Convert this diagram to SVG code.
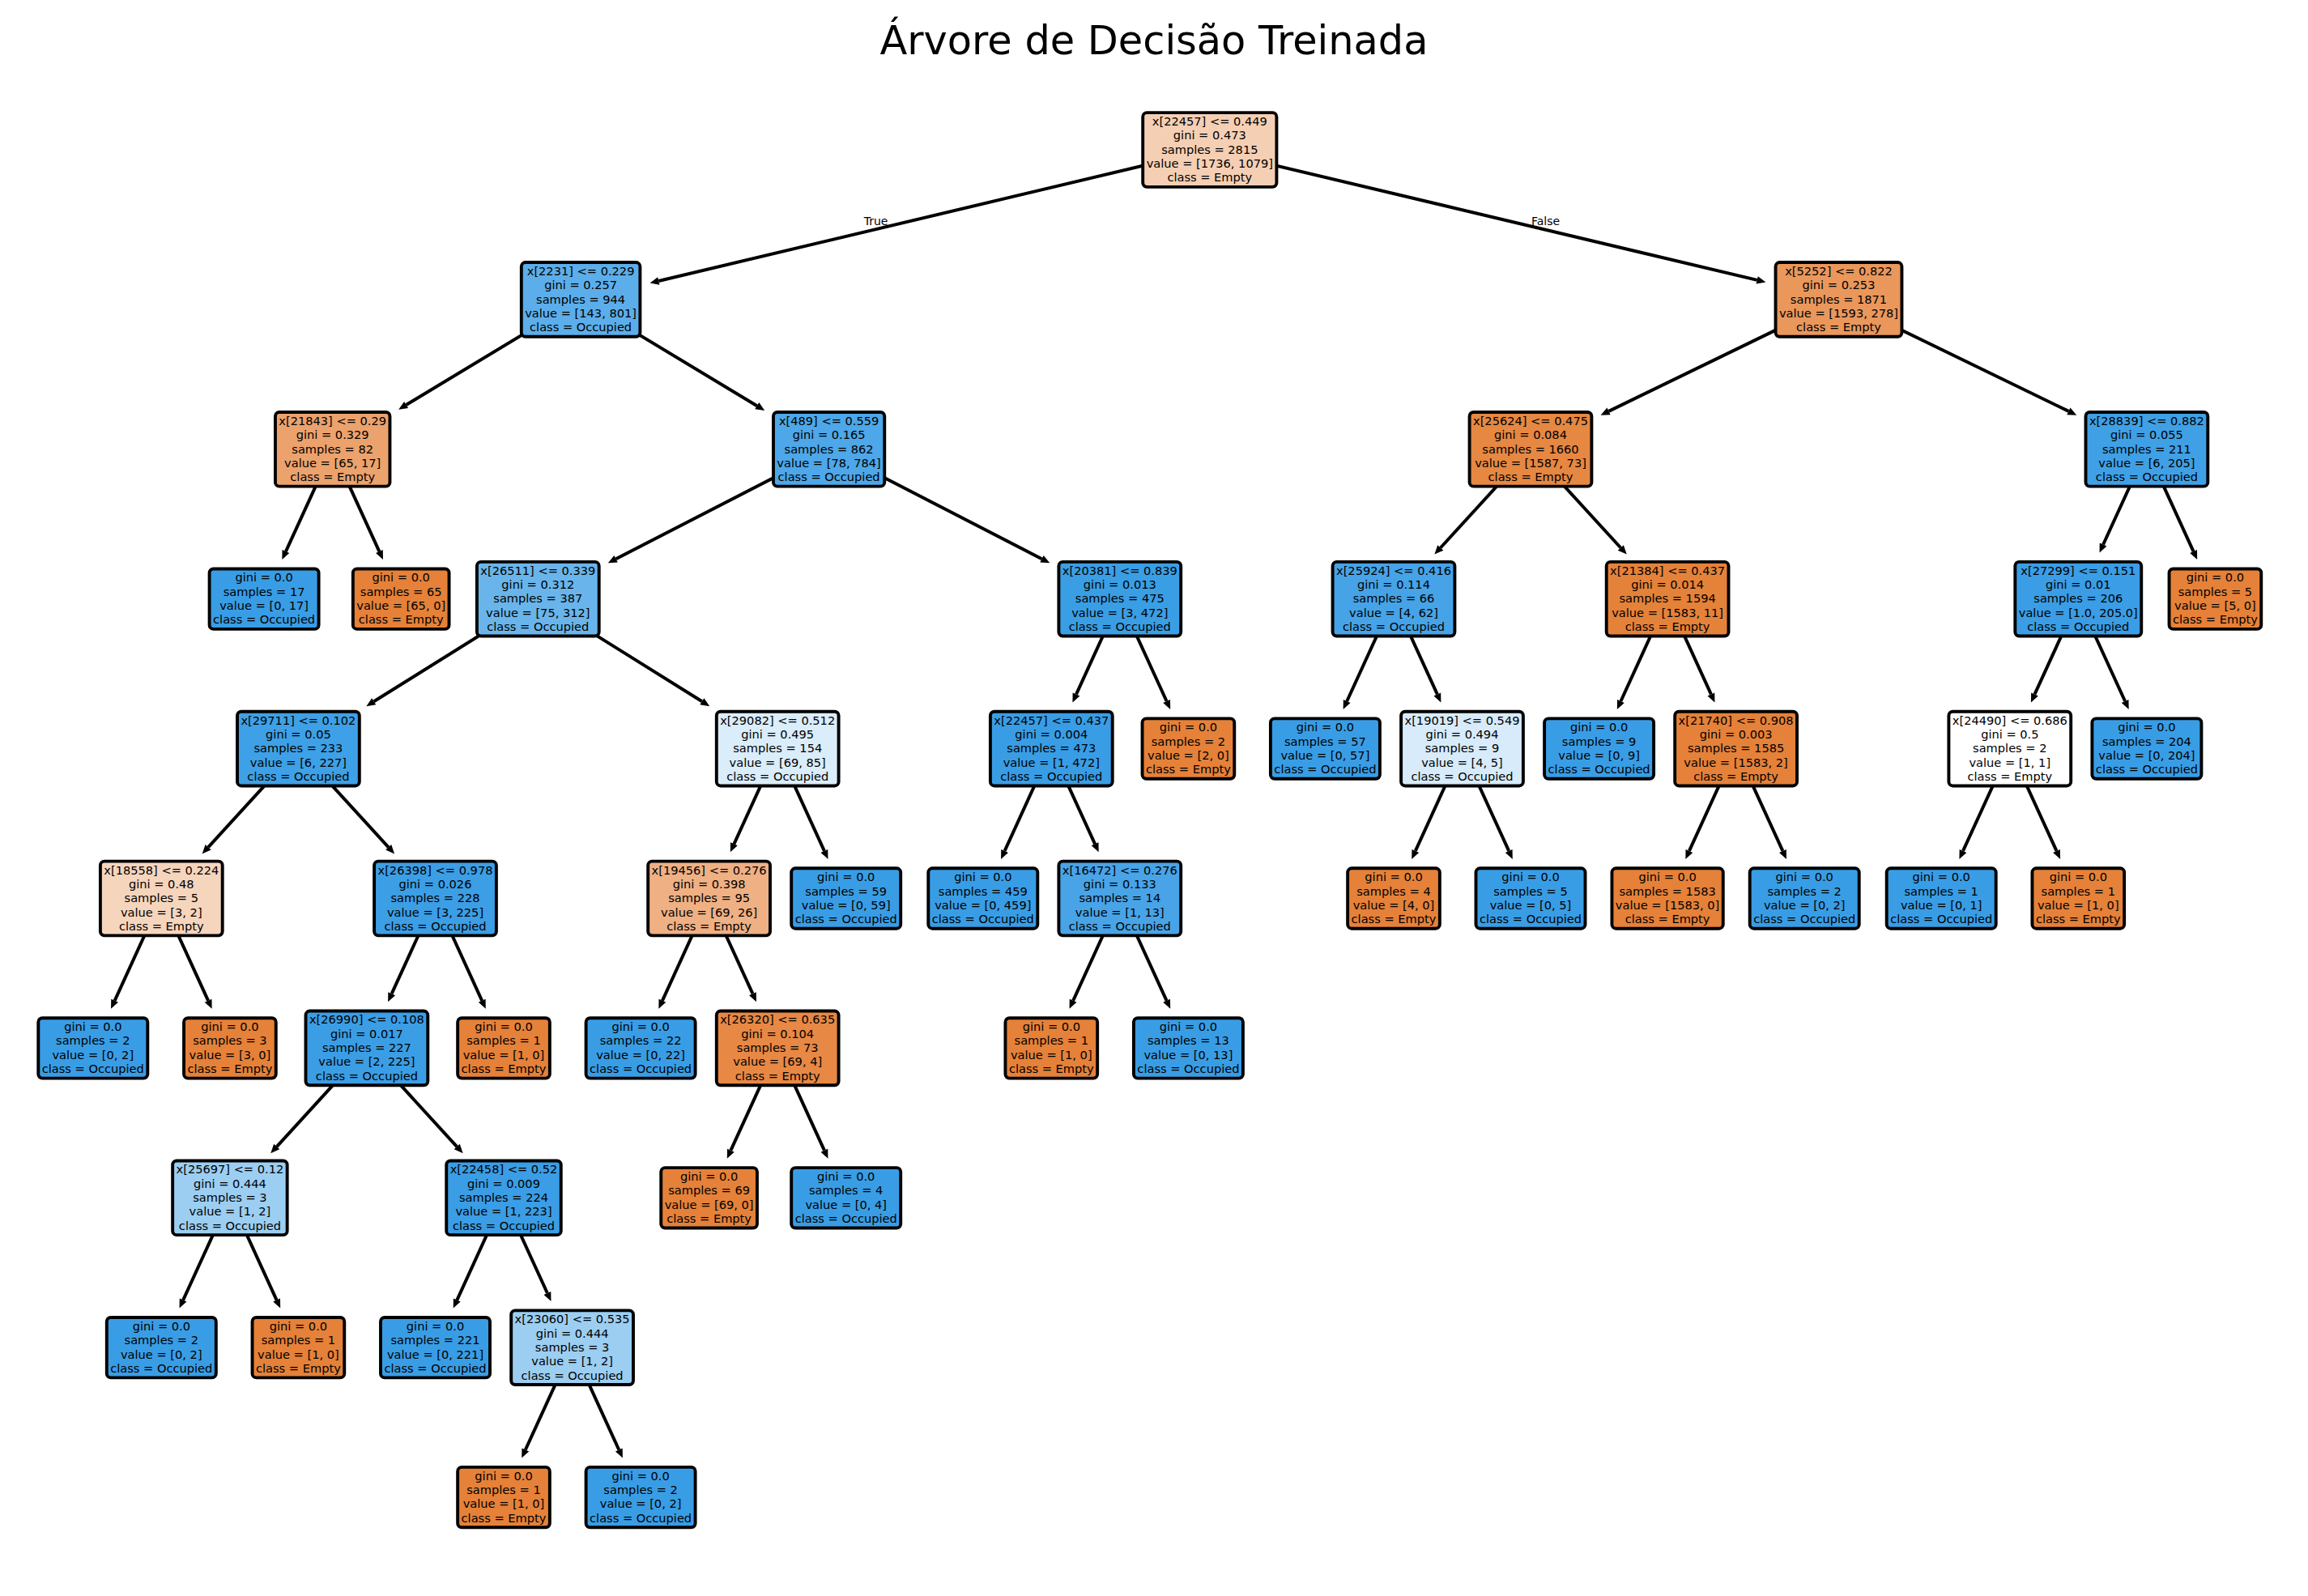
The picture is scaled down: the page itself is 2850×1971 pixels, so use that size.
<svg xmlns="http://www.w3.org/2000/svg" width="2850" height="1971" viewBox="0 0 2850 1971">
<style>
text{font-family:"DejaVu Sans","Liberation Sans",sans-serif;fill:#000}
.t{font-size:14.6px;text-anchor:middle}
.n rect{stroke:#000;stroke-width:3.9}
.o{fill:#e58139}
.b{fill:#399de5}
.c line{stroke:#000;stroke-width:4;marker-end:url(#ah)}
.lbl{font-size:14px}
</style>
<defs>
<marker id="ah" markerUnits="userSpaceOnUse" markerWidth="12" markerHeight="12" viewBox="0 -6 12 12" refX="0" refY="0" orient="auto" overflow="visible"><path d="M0,-4.8 L11,0 L0,4.8 Z" fill="#000"/></marker>
</defs>
<rect width="2850" height="1971" fill="#fff"/>
<text x="1425" y="66.7" font-size="49.4" text-anchor="middle">Árvore de Decisão Treinada</text>
<g id="connectors" class="c">
<line x1="1493.8" y1="185" x2="813.3" y2="347.0"/>
<line x1="1493.8" y1="185" x2="2169.7" y2="345.9"/>
<line x1="717.1" y1="369.9" x2="501.6" y2="500.0"/>
<line x1="717.1" y1="369.9" x2="934.8" y2="501.2"/>
<line x1="2270.5" y1="369.9" x2="1986.5" y2="507.9"/>
<line x1="2270.5" y1="369.9" x2="2554.4" y2="507.9"/>
<line x1="410.7" y1="554.8" x2="352.9" y2="681.1"/>
<line x1="410.7" y1="554.8" x2="468.4" y2="681.1"/>
<line x1="1023.6" y1="554.8" x2="760.6" y2="690.2"/>
<line x1="1023.6" y1="554.8" x2="1286.5" y2="690.2"/>
<line x1="1890" y1="554.8" x2="1778.8" y2="676.5"/>
<line x1="1890" y1="554.8" x2="2001.3" y2="676.5"/>
<line x1="2650.9" y1="554.8" x2="2597.1" y2="672.5"/>
<line x1="2650.9" y1="554.8" x2="2708.6" y2="681.1"/>
<line x1="664.3" y1="739.7" x2="461.7" y2="866.3"/>
<line x1="664.3" y1="739.7" x2="866.9" y2="866.3"/>
<line x1="1382.8" y1="739.7" x2="1329.0" y2="857.4"/>
<line x1="1382.8" y1="739.7" x2="1440.6" y2="866.0"/>
<line x1="1721" y1="739.7" x2="1663.2" y2="866.0"/>
<line x1="1721" y1="739.7" x2="1774.8" y2="857.4"/>
<line x1="2059.1" y1="739.7" x2="2001.4" y2="866.0"/>
<line x1="2059.1" y1="739.7" x2="2112.9" y2="857.4"/>
<line x1="2566.3" y1="739.7" x2="2512.5" y2="857.4"/>
<line x1="2566.3" y1="739.7" x2="2624.1" y2="866.0"/>
<line x1="368.4" y1="924.6" x2="257.1" y2="1046.3"/>
<line x1="368.4" y1="924.6" x2="479.7" y2="1046.3"/>
<line x1="960.2" y1="924.6" x2="906.4" y2="1042.3"/>
<line x1="960.2" y1="924.6" x2="1017.9" y2="1050.9"/>
<line x1="1298.3" y1="924.6" x2="1240.6" y2="1050.9"/>
<line x1="1298.3" y1="924.6" x2="1352.1" y2="1042.3"/>
<line x1="1805.5" y1="924.6" x2="1747.8" y2="1050.9"/>
<line x1="1805.5" y1="924.6" x2="1863.2" y2="1050.9"/>
<line x1="2143.6" y1="924.6" x2="2085.9" y2="1050.9"/>
<line x1="2143.6" y1="924.6" x2="2201.4" y2="1050.9"/>
<line x1="2481.8" y1="924.6" x2="2424.0" y2="1050.9"/>
<line x1="2481.8" y1="924.6" x2="2539.5" y2="1050.9"/>
<line x1="199.3" y1="1109.5" x2="141.6" y2="1235.8"/>
<line x1="199.3" y1="1109.5" x2="257.1" y2="1235.8"/>
<line x1="537.5" y1="1109.5" x2="483.7" y2="1227.2"/>
<line x1="537.5" y1="1109.5" x2="595.2" y2="1235.8"/>
<line x1="875.6" y1="1109.5" x2="817.9" y2="1235.8"/>
<line x1="875.6" y1="1109.5" x2="929.4" y2="1227.2"/>
<line x1="1382.8" y1="1109.5" x2="1325.1" y2="1235.8"/>
<line x1="1382.8" y1="1109.5" x2="1440.6" y2="1235.8"/>
<line x1="452.9" y1="1294.4" x2="341.7" y2="1416.1"/>
<line x1="452.9" y1="1294.4" x2="564.2" y2="1416.1"/>
<line x1="960.2" y1="1294.4" x2="902.4" y2="1420.7"/>
<line x1="960.2" y1="1294.4" x2="1017.9" y2="1420.7"/>
<line x1="283.9" y1="1479.3" x2="226.1" y2="1605.6"/>
<line x1="283.9" y1="1479.3" x2="341.6" y2="1605.6"/>
<line x1="622" y1="1479.3" x2="564.3" y2="1605.6"/>
<line x1="622" y1="1479.3" x2="675.9" y2="1597.0"/>
<line x1="706.6" y1="1664.2" x2="648.8" y2="1790.5"/>
<line x1="706.6" y1="1664.2" x2="764.3" y2="1790.5"/>
</g>
<g id="edge-labels">
<text class="lbl" x="1096.5" y="277.5" text-anchor="end">True</text>
<text class="lbl" x="1891" y="277.5">False</text>
</g>
<g id="nodes" class="n">
<g id="n0"><rect x="1411.2" y="139.15" width="165.2" height="91.7" rx="5" fill="#f5cfb4"/><text class="t"><tspan x="1493.8" y="155">x[22457] &lt;= 0.449</tspan><tspan x="1493.8" y="172.35">gini = 0.473</tspan><tspan x="1493.8" y="189.7">samples = 2815</tspan><tspan x="1493.8" y="207.05">value = [1736, 1079]</tspan><tspan x="1493.8" y="224.4">class = Empty</tspan></text></g>

<g id="n1"><rect x="643.8" y="324.05" width="146.6" height="91.7" rx="5" fill="#5caeea"/><text class="t"><tspan x="717.1" y="339.9">x[2231] &lt;= 0.229</tspan><tspan x="717.1" y="357.25">gini = 0.257</tspan><tspan x="717.1" y="374.6">samples = 944</tspan><tspan x="717.1" y="391.95">value = [143, 801]</tspan><tspan x="717.1" y="409.3">class = Occupied</tspan></text></g>
<g id="n2"><rect x="2192.55" y="324.05" width="155.9" height="91.7" rx="5" fill="#ea975c"/><text class="t"><tspan x="2270.5" y="339.9">x[5252] &lt;= 0.822</tspan><tspan x="2270.5" y="357.25">gini = 0.253</tspan><tspan x="2270.5" y="374.6">samples = 1871</tspan><tspan x="2270.5" y="391.95">value = [1593, 278]</tspan><tspan x="2270.5" y="409.3">class = Empty</tspan></text></g>

<g id="n3"><rect x="339.95" y="508.95" width="141.5" height="91.7" rx="5" fill="#eca26d"/><text class="t"><tspan x="410.7" y="524.8">x[21843] &lt;= 0.29</tspan><tspan x="410.7" y="542.15">gini = 0.329</tspan><tspan x="410.7" y="559.5">samples = 82</tspan><tspan x="410.7" y="576.85">value = [65, 17]</tspan><tspan x="410.7" y="594.2">class = Empty</tspan></text></g>
<g id="n4"><rect x="954.95" y="508.95" width="137.3" height="91.7" rx="5" fill="#4da7e8"/><text class="t"><tspan x="1023.6" y="524.8">x[489] &lt;= 0.559</tspan><tspan x="1023.6" y="542.15">gini = 0.165</tspan><tspan x="1023.6" y="559.5">samples = 862</tspan><tspan x="1023.6" y="576.85">value = [78, 784]</tspan><tspan x="1023.6" y="594.2">class = Occupied</tspan></text></g>
<g id="n5"><rect x="1814.6" y="508.95" width="150.8" height="91.7" rx="5" fill="#e68742"/><text class="t"><tspan x="1890" y="524.8">x[25624] &lt;= 0.475</tspan><tspan x="1890" y="542.15">gini = 0.084</tspan><tspan x="1890" y="559.5">samples = 1660</tspan><tspan x="1890" y="576.85">value = [1587, 73]</tspan><tspan x="1890" y="594.2">class = Empty</tspan></text></g>
<g id="n6"><rect x="2575.5" y="508.95" width="150.8" height="91.7" rx="5" fill="#3fa0e6"/><text class="t"><tspan x="2650.9" y="524.8">x[28839] &lt;= 0.882</tspan><tspan x="2650.9" y="542.15">gini = 0.055</tspan><tspan x="2650.9" y="559.5">samples = 211</tspan><tspan x="2650.9" y="576.85">value = [6, 205]</tspan><tspan x="2650.9" y="594.2">class = Occupied</tspan></text></g>

<g id="n7"><rect class="b" x="258.6" y="702.5" width="135" height="74.4" rx="5"/><text class="t"><tspan x="326.1" y="718.35">gini = 0.0</tspan><tspan x="326.1" y="735.7">samples = 17</tspan><tspan x="326.1" y="753.05">value = [0, 17]</tspan><tspan x="326.1" y="770.4">class = Occupied</tspan></text></g>
<g id="n8"><rect class="o" x="435.85" y="702.5" width="118.7" height="74.4" rx="5"/><text class="t"><tspan x="495.2" y="718.35">gini = 0.0</tspan><tspan x="495.2" y="735.7">samples = 65</tspan><tspan x="495.2" y="753.05">value = [65, 0]</tspan><tspan x="495.2" y="770.4">class = Empty</tspan></text></g>
<g id="n9"><rect x="588.9" y="693.85" width="150.8" height="91.7" rx="5" fill="#69b5eb"/><text class="t"><tspan x="664.3" y="709.7">x[26511] &lt;= 0.339</tspan><tspan x="664.3" y="727.05">gini = 0.312</tspan><tspan x="664.3" y="744.4">samples = 387</tspan><tspan x="664.3" y="761.75">value = [75, 312]</tspan><tspan x="664.3" y="779.1">class = Occupied</tspan></text></g>
<g id="n10"><rect x="1307.4" y="693.85" width="150.8" height="91.7" rx="5" fill="#3a9ee5"/><text class="t"><tspan x="1382.8" y="709.7">x[20381] &lt;= 0.839</tspan><tspan x="1382.8" y="727.05">gini = 0.013</tspan><tspan x="1382.8" y="744.4">samples = 475</tspan><tspan x="1382.8" y="761.75">value = [3, 472]</tspan><tspan x="1382.8" y="779.1">class = Occupied</tspan></text></g>
<g id="n11"><rect x="1645.6" y="693.85" width="150.8" height="91.7" rx="5" fill="#46a3e7"/><text class="t"><tspan x="1721" y="709.7">x[25924] &lt;= 0.416</tspan><tspan x="1721" y="727.05">gini = 0.114</tspan><tspan x="1721" y="744.4">samples = 66</tspan><tspan x="1721" y="761.75">value = [4, 62]</tspan><tspan x="1721" y="779.1">class = Occupied</tspan></text></g>
<g id="n12"><rect x="1983.7" y="693.85" width="150.8" height="91.7" rx="5" fill="#e5823a"/><text class="t"><tspan x="2059.1" y="709.7">x[21384] &lt;= 0.437</tspan><tspan x="2059.1" y="727.05">gini = 0.014</tspan><tspan x="2059.1" y="744.4">samples = 1594</tspan><tspan x="2059.1" y="761.75">value = [1583, 11]</tspan><tspan x="2059.1" y="779.1">class = Empty</tspan></text></g>
<g id="n13"><rect x="2488.35" y="693.85" width="155.9" height="91.7" rx="5" fill="#3a9de5"/><text class="t"><tspan x="2566.3" y="709.7">x[27299] &lt;= 0.151</tspan><tspan x="2566.3" y="727.05">gini = 0.01</tspan><tspan x="2566.3" y="744.4">samples = 206</tspan><tspan x="2566.3" y="761.75">value = [1.0, 205.0]</tspan><tspan x="2566.3" y="779.1">class = Occupied</tspan></text></g>
<g id="n14"><rect class="o" x="2678.55" y="702.5" width="113.7" height="74.4" rx="5"/><text class="t"><tspan x="2735.4" y="718.35">gini = 0.0</tspan><tspan x="2735.4" y="735.7">samples = 5</tspan><tspan x="2735.4" y="753.05">value = [5, 0]</tspan><tspan x="2735.4" y="770.4">class = Empty</tspan></text></g>

<g id="n15"><rect x="293" y="878.75" width="150.8" height="91.7" rx="5" fill="#3ea0e6"/><text class="t"><tspan x="368.4" y="894.6">x[29711] &lt;= 0.102</tspan><tspan x="368.4" y="911.95">gini = 0.05</tspan><tspan x="368.4" y="929.3">samples = 233</tspan><tspan x="368.4" y="946.65">value = [6, 227]</tspan><tspan x="368.4" y="964">class = Occupied</tspan></text></g>
<g id="n16"><rect x="884.8" y="878.75" width="150.8" height="91.7" rx="5" fill="#daedfa"/><text class="t"><tspan x="960.2" y="894.6">x[29082] &lt;= 0.512</tspan><tspan x="960.2" y="911.95">gini = 0.495</tspan><tspan x="960.2" y="929.3">samples = 154</tspan><tspan x="960.2" y="946.65">value = [69, 85]</tspan><tspan x="960.2" y="964">class = Occupied</tspan></text></g>
<g id="n17"><rect x="1222.9" y="878.75" width="150.8" height="91.7" rx="5" fill="#399de5"/><text class="t"><tspan x="1298.3" y="894.6">x[22457] &lt;= 0.437</tspan><tspan x="1298.3" y="911.95">gini = 0.004</tspan><tspan x="1298.3" y="929.3">samples = 473</tspan><tspan x="1298.3" y="946.65">value = [1, 472]</tspan><tspan x="1298.3" y="964">class = Occupied</tspan></text></g>
<g id="n18"><rect class="o" x="1410.55" y="887.4" width="113.7" height="74.4" rx="5"/><text class="t"><tspan x="1467.4" y="903.25">gini = 0.0</tspan><tspan x="1467.4" y="920.6">samples = 2</tspan><tspan x="1467.4" y="937.95">value = [2, 0]</tspan><tspan x="1467.4" y="955.3">class = Empty</tspan></text></g>
<g id="n19"><rect class="b" x="1568.9" y="887.4" width="135" height="74.4" rx="5"/><text class="t"><tspan x="1636.4" y="903.25">gini = 0.0</tspan><tspan x="1636.4" y="920.6">samples = 57</tspan><tspan x="1636.4" y="937.95">value = [0, 57]</tspan><tspan x="1636.4" y="955.3">class = Occupied</tspan></text></g>
<g id="n20"><rect x="1730.1" y="878.75" width="150.8" height="91.7" rx="5" fill="#d7ebfa"/><text class="t"><tspan x="1805.5" y="894.6">x[19019] &lt;= 0.549</tspan><tspan x="1805.5" y="911.95">gini = 0.494</tspan><tspan x="1805.5" y="929.3">samples = 9</tspan><tspan x="1805.5" y="946.65">value = [4, 5]</tspan><tspan x="1805.5" y="964">class = Occupied</tspan></text></g>
<g id="n21"><rect class="b" x="1907.1" y="887.4" width="135" height="74.4" rx="5"/><text class="t"><tspan x="1974.6" y="903.25">gini = 0.0</tspan><tspan x="1974.6" y="920.6">samples = 9</tspan><tspan x="1974.6" y="937.95">value = [0, 9]</tspan><tspan x="1974.6" y="955.3">class = Occupied</tspan></text></g>
<g id="n22"><rect class="o" x="2068.2" y="878.75" width="150.8" height="91.7" rx="5"/><text class="t"><tspan x="2143.6" y="894.6">x[21740] &lt;= 0.908</tspan><tspan x="2143.6" y="911.95">gini = 0.003</tspan><tspan x="2143.6" y="929.3">samples = 1585</tspan><tspan x="2143.6" y="946.65">value = [1583, 2]</tspan><tspan x="2143.6" y="964">class = Empty</tspan></text></g>
<g id="n23"><rect x="2406.4" y="878.75" width="150.8" height="91.7" rx="5" fill="#ffffff"/><text class="t"><tspan x="2481.8" y="894.6">x[24490] &lt;= 0.686</tspan><tspan x="2481.8" y="911.95">gini = 0.5</tspan><tspan x="2481.8" y="929.3">samples = 2</tspan><tspan x="2481.8" y="946.65">value = [1, 1]</tspan><tspan x="2481.8" y="964">class = Empty</tspan></text></g>
<g id="n24"><rect class="b" x="2583.4" y="887.4" width="135" height="74.4" rx="5"/><text class="t"><tspan x="2650.9" y="903.25">gini = 0.0</tspan><tspan x="2650.9" y="920.6">samples = 204</tspan><tspan x="2650.9" y="937.95">value = [0, 204]</tspan><tspan x="2650.9" y="955.3">class = Occupied</tspan></text></g>

<g id="n25"><rect x="123.9" y="1063.65" width="150.8" height="91.7" rx="5" fill="#f6d5bd"/><text class="t"><tspan x="199.3" y="1079.5">x[18558] &lt;= 0.224</tspan><tspan x="199.3" y="1096.85">gini = 0.48</tspan><tspan x="199.3" y="1114.2">samples = 5</tspan><tspan x="199.3" y="1131.55">value = [3, 2]</tspan><tspan x="199.3" y="1148.9">class = Empty</tspan></text></g>
<g id="n26"><rect x="462.1" y="1063.65" width="150.8" height="91.7" rx="5" fill="#3c9ee5"/><text class="t"><tspan x="537.5" y="1079.5">x[26398] &lt;= 0.978</tspan><tspan x="537.5" y="1096.85">gini = 0.026</tspan><tspan x="537.5" y="1114.2">samples = 228</tspan><tspan x="537.5" y="1131.55">value = [3, 225]</tspan><tspan x="537.5" y="1148.9">class = Occupied</tspan></text></g>
<g id="n27"><rect x="800.2" y="1063.65" width="150.8" height="91.7" rx="5" fill="#efb084"/><text class="t"><tspan x="875.6" y="1079.5">x[19456] &lt;= 0.276</tspan><tspan x="875.6" y="1096.85">gini = 0.398</tspan><tspan x="875.6" y="1114.2">samples = 95</tspan><tspan x="875.6" y="1131.55">value = [69, 26]</tspan><tspan x="875.6" y="1148.9">class = Empty</tspan></text></g>
<g id="n28"><rect class="b" x="977.2" y="1072.3" width="135" height="74.4" rx="5"/><text class="t"><tspan x="1044.7" y="1088.15">gini = 0.0</tspan><tspan x="1044.7" y="1105.5">samples = 59</tspan><tspan x="1044.7" y="1122.85">value = [0, 59]</tspan><tspan x="1044.7" y="1140.2">class = Occupied</tspan></text></g>
<g id="n29"><rect class="b" x="1146.3" y="1072.3" width="135" height="74.4" rx="5"/><text class="t"><tspan x="1213.8" y="1088.15">gini = 0.0</tspan><tspan x="1213.8" y="1105.5">samples = 459</tspan><tspan x="1213.8" y="1122.85">value = [0, 459]</tspan><tspan x="1213.8" y="1140.2">class = Occupied</tspan></text></g>
<g id="n30"><rect x="1307.4" y="1063.65" width="150.8" height="91.7" rx="5" fill="#48a4e7"/><text class="t"><tspan x="1382.8" y="1079.5">x[16472] &lt;= 0.276</tspan><tspan x="1382.8" y="1096.85">gini = 0.133</tspan><tspan x="1382.8" y="1114.2">samples = 14</tspan><tspan x="1382.8" y="1131.55">value = [1, 13]</tspan><tspan x="1382.8" y="1148.9">class = Occupied</tspan></text></g>
<g id="n31"><rect class="o" x="1664.15" y="1072.3" width="113.7" height="74.4" rx="5"/><text class="t"><tspan x="1721" y="1088.15">gini = 0.0</tspan><tspan x="1721" y="1105.5">samples = 4</tspan><tspan x="1721" y="1122.85">value = [4, 0]</tspan><tspan x="1721" y="1140.2">class = Empty</tspan></text></g>
<g id="n32"><rect class="b" x="1822.5" y="1072.3" width="135" height="74.4" rx="5"/><text class="t"><tspan x="1890" y="1088.15">gini = 0.0</tspan><tspan x="1890" y="1105.5">samples = 5</tspan><tspan x="1890" y="1122.85">value = [0, 5]</tspan><tspan x="1890" y="1140.2">class = Occupied</tspan></text></g>
<g id="n33"><rect class="o" x="1990.45" y="1072.3" width="137.3" height="74.4" rx="5"/><text class="t"><tspan x="2059.1" y="1088.15">gini = 0.0</tspan><tspan x="2059.1" y="1105.5">samples = 1583</tspan><tspan x="2059.1" y="1122.85">value = [1583, 0]</tspan><tspan x="2059.1" y="1140.2">class = Empty</tspan></text></g>
<g id="n34"><rect class="b" x="2160.7" y="1072.3" width="135" height="74.4" rx="5"/><text class="t"><tspan x="2228.2" y="1088.15">gini = 0.0</tspan><tspan x="2228.2" y="1105.5">samples = 2</tspan><tspan x="2228.2" y="1122.85">value = [0, 2]</tspan><tspan x="2228.2" y="1140.2">class = Occupied</tspan></text></g>
<g id="n35"><rect class="b" x="2329.7" y="1072.3" width="135" height="74.4" rx="5"/><text class="t"><tspan x="2397.2" y="1088.15">gini = 0.0</tspan><tspan x="2397.2" y="1105.5">samples = 1</tspan><tspan x="2397.2" y="1122.85">value = [0, 1]</tspan><tspan x="2397.2" y="1140.2">class = Occupied</tspan></text></g>
<g id="n36"><rect class="o" x="2509.45" y="1072.3" width="113.7" height="74.4" rx="5"/><text class="t"><tspan x="2566.3" y="1088.15">gini = 0.0</tspan><tspan x="2566.3" y="1105.5">samples = 1</tspan><tspan x="2566.3" y="1122.85">value = [1, 0]</tspan><tspan x="2566.3" y="1140.2">class = Empty</tspan></text></g>

<g id="n37"><rect class="b" x="47.3" y="1257.2" width="135" height="74.4" rx="5"/><text class="t"><tspan x="114.8" y="1273.05">gini = 0.0</tspan><tspan x="114.8" y="1290.4">samples = 2</tspan><tspan x="114.8" y="1307.75">value = [0, 2]</tspan><tspan x="114.8" y="1325.1">class = Occupied</tspan></text></g>
<g id="n38"><rect class="o" x="227.05" y="1257.2" width="113.7" height="74.4" rx="5"/><text class="t"><tspan x="283.9" y="1273.05">gini = 0.0</tspan><tspan x="283.9" y="1290.4">samples = 3</tspan><tspan x="283.9" y="1307.75">value = [3, 0]</tspan><tspan x="283.9" y="1325.1">class = Empty</tspan></text></g>
<g id="n39"><rect x="377.5" y="1248.55" width="150.8" height="91.7" rx="5" fill="#3b9ee5"/><text class="t"><tspan x="452.9" y="1264.4">x[26990] &lt;= 0.108</tspan><tspan x="452.9" y="1281.75">gini = 0.017</tspan><tspan x="452.9" y="1299.1">samples = 227</tspan><tspan x="452.9" y="1316.45">value = [2, 225]</tspan><tspan x="452.9" y="1333.8">class = Occupied</tspan></text></g>
<g id="n40"><rect class="o" x="565.15" y="1257.2" width="113.7" height="74.4" rx="5"/><text class="t"><tspan x="622" y="1273.05">gini = 0.0</tspan><tspan x="622" y="1290.4">samples = 1</tspan><tspan x="622" y="1307.75">value = [1, 0]</tspan><tspan x="622" y="1325.1">class = Empty</tspan></text></g>
<g id="n41"><rect class="b" x="723.6" y="1257.2" width="135" height="74.4" rx="5"/><text class="t"><tspan x="791.1" y="1273.05">gini = 0.0</tspan><tspan x="791.1" y="1290.4">samples = 22</tspan><tspan x="791.1" y="1307.75">value = [0, 22]</tspan><tspan x="791.1" y="1325.1">class = Occupied</tspan></text></g>
<g id="n42"><rect x="884.8" y="1248.55" width="150.8" height="91.7" rx="5" fill="#e78844"/><text class="t"><tspan x="960.2" y="1264.4">x[26320] &lt;= 0.635</tspan><tspan x="960.2" y="1281.75">gini = 0.104</tspan><tspan x="960.2" y="1299.1">samples = 73</tspan><tspan x="960.2" y="1316.45">value = [69, 4]</tspan><tspan x="960.2" y="1333.8">class = Empty</tspan></text></g>
<g id="n43"><rect class="o" x="1241.45" y="1257.2" width="113.7" height="74.4" rx="5"/><text class="t"><tspan x="1298.3" y="1273.05">gini = 0.0</tspan><tspan x="1298.3" y="1290.4">samples = 1</tspan><tspan x="1298.3" y="1307.75">value = [1, 0]</tspan><tspan x="1298.3" y="1325.1">class = Empty</tspan></text></g>
<g id="n44"><rect class="b" x="1399.9" y="1257.2" width="135" height="74.4" rx="5"/><text class="t"><tspan x="1467.4" y="1273.05">gini = 0.0</tspan><tspan x="1467.4" y="1290.4">samples = 13</tspan><tspan x="1467.4" y="1307.75">value = [0, 13]</tspan><tspan x="1467.4" y="1325.1">class = Occupied</tspan></text></g>

<g id="n45"><rect x="213.15" y="1433.45" width="141.5" height="91.7" rx="5" fill="#9ccef2"/><text class="t"><tspan x="283.9" y="1449.3">x[25697] &lt;= 0.12</tspan><tspan x="283.9" y="1466.65">gini = 0.444</tspan><tspan x="283.9" y="1484">samples = 3</tspan><tspan x="283.9" y="1501.35">value = [1, 2]</tspan><tspan x="283.9" y="1518.7">class = Occupied</tspan></text></g>
<g id="n46"><rect x="551.25" y="1433.45" width="141.5" height="91.7" rx="5" fill="#3a9de5"/><text class="t"><tspan x="622" y="1449.3">x[22458] &lt;= 0.52</tspan><tspan x="622" y="1466.65">gini = 0.009</tspan><tspan x="622" y="1484">samples = 224</tspan><tspan x="622" y="1501.35">value = [1, 223]</tspan><tspan x="622" y="1518.7">class = Occupied</tspan></text></g>
<g id="n47"><rect class="o" x="816.25" y="1442.1" width="118.7" height="74.4" rx="5"/><text class="t"><tspan x="875.6" y="1457.95">gini = 0.0</tspan><tspan x="875.6" y="1475.3">samples = 69</tspan><tspan x="875.6" y="1492.65">value = [69, 0]</tspan><tspan x="875.6" y="1510">class = Empty</tspan></text></g>
<g id="n48"><rect class="b" x="977.2" y="1442.1" width="135" height="74.4" rx="5"/><text class="t"><tspan x="1044.7" y="1457.95">gini = 0.0</tspan><tspan x="1044.7" y="1475.3">samples = 4</tspan><tspan x="1044.7" y="1492.65">value = [0, 4]</tspan><tspan x="1044.7" y="1510">class = Occupied</tspan></text></g>

<g id="n49"><rect class="b" x="131.8" y="1627" width="135" height="74.4" rx="5"/><text class="t"><tspan x="199.3" y="1642.85">gini = 0.0</tspan><tspan x="199.3" y="1660.2">samples = 2</tspan><tspan x="199.3" y="1677.55">value = [0, 2]</tspan><tspan x="199.3" y="1694.9">class = Occupied</tspan></text></g>
<g id="n50"><rect class="o" x="311.55" y="1627" width="113.7" height="74.4" rx="5"/><text class="t"><tspan x="368.4" y="1642.85">gini = 0.0</tspan><tspan x="368.4" y="1660.2">samples = 1</tspan><tspan x="368.4" y="1677.55">value = [1, 0]</tspan><tspan x="368.4" y="1694.9">class = Empty</tspan></text></g>
<g id="n51"><rect class="b" x="470" y="1627" width="135" height="74.4" rx="5"/><text class="t"><tspan x="537.5" y="1642.85">gini = 0.0</tspan><tspan x="537.5" y="1660.2">samples = 221</tspan><tspan x="537.5" y="1677.55">value = [0, 221]</tspan><tspan x="537.5" y="1694.9">class = Occupied</tspan></text></g>
<g id="n52"><rect x="631.2" y="1618.35" width="150.8" height="91.7" rx="5" fill="#9ccef2"/><text class="t"><tspan x="706.6" y="1634.2">x[23060] &lt;= 0.535</tspan><tspan x="706.6" y="1651.55">gini = 0.444</tspan><tspan x="706.6" y="1668.9">samples = 3</tspan><tspan x="706.6" y="1686.25">value = [1, 2]</tspan><tspan x="706.6" y="1703.6">class = Occupied</tspan></text></g>

<g id="n53"><rect class="o" x="565.15" y="1811.9" width="113.7" height="74.4" rx="5"/><text class="t"><tspan x="622" y="1827.75">gini = 0.0</tspan><tspan x="622" y="1845.1">samples = 1</tspan><tspan x="622" y="1862.45">value = [1, 0]</tspan><tspan x="622" y="1879.8">class = Empty</tspan></text></g>
<g id="n54"><rect class="b" x="723.6" y="1811.9" width="135" height="74.4" rx="5"/><text class="t"><tspan x="791.1" y="1827.75">gini = 0.0</tspan><tspan x="791.1" y="1845.1">samples = 2</tspan><tspan x="791.1" y="1862.45">value = [0, 2]</tspan><tspan x="791.1" y="1879.8">class = Occupied</tspan></text></g>
</g>
</svg>
